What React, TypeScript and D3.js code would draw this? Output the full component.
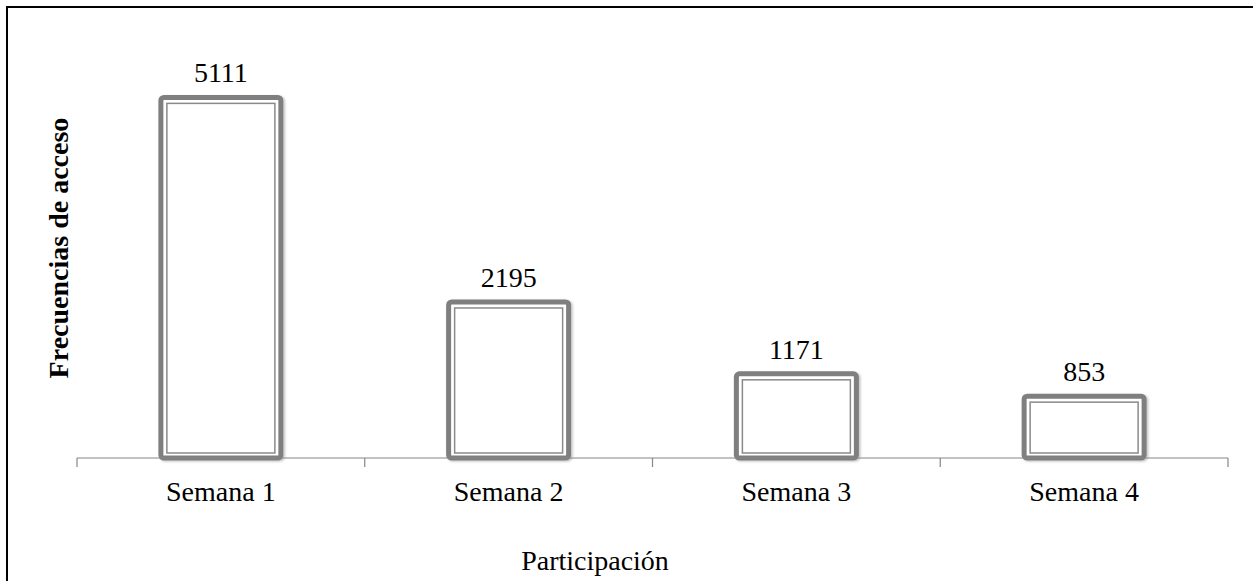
import React from 'react';
import * as d3 from 'd3';

const categories = ['Semana 1', 'Semana 2', 'Semana 3', 'Semana 4'];
const values = [5111, 2195, 1171, 853];
const yMax = 6000;
const xTitle = 'Participación';
const yTitle = 'Frecuencias de acceso';

const width = 1253;
const height = 581;
const FONT = '"Times New Roman", "Liberation Serif", serif';

export default function App() {
  const axisY = 458;
  const x = d3.scaleBand<string>().domain(categories).range([77, 1228]).padding(0);
  const y = d3.scaleLinear().domain([0, yMax]).range([456, 35]);

  const barW = x.bandwidth() * 0.417;
  const ticks = [...categories.map(c => x(c) as number), 1228];

  return (
    <div style={{ position: 'absolute', left: 0, top: 0 }}>
      <svg width={width} height={height} style={{ display: 'block', background: '#fff' }}>
        <defs>
          <filter id="shadow" x="-10%" y="-10%" width="130%" height="130%">
            <feDropShadow dx="1.5" dy="1" stdDeviation="1.2" floodColor="#000" floodOpacity="0.25" />
          </filter>
        </defs>

        {/* chart frame */}
        <rect x={7} y={7} width={1260} height={600} fill="none" stroke="#000" strokeWidth={2} />

        {/* bars */}
        {values.map((v, i) => {
          const cx = (x(categories[i]) as number) + x.bandwidth() / 2;
          const top = y(v);
          const x0 = cx - barW / 2;
          const h = axisY - top;
          return (
            <g key={categories[i]}>
              <rect x={x0} y={top} width={barW} height={h} rx={3} fill="#fff"
                stroke="#7f7f7f" strokeWidth={5} filter="url(#shadow)" />
              <rect x={x0 + 6} y={top + 6} width={barW - 12} height={h - 11} fill="none"
                stroke="#8a8a8a" strokeWidth={1.5} />
              <text x={cx} y={top - 15} textAnchor="middle" fontFamily={FONT} fontSize={28} fill="#000">
                {v}
              </text>
            </g>
          );
        })}

        {/* x axis */}
        <line x1={77} x2={1228} y1={axisY} y2={axisY} stroke="#868686" strokeWidth={1.2} />
        {ticks.map((t, i) => (
          <line key={i} x1={t} x2={t} y1={axisY} y2={axisY + 9} stroke="#868686" strokeWidth={1.2} />
        ))}
        {categories.map(c => (
          <text key={c} x={(x(c) as number) + x.bandwidth() / 2} y={501} textAnchor="middle"
            fontFamily={FONT} fontSize={28} fill="#000">{c}</text>
        ))}

        {/* axis titles */}
        <text x={595} y={570} textAnchor="middle" fontFamily={FONT} fontSize={28} fill="#000">{xTitle}</text>
        <text transform="translate(68,248) rotate(-90)" textAnchor="middle" fontFamily={FONT}
          fontSize={28} fontWeight="bold" fill="#000">{yTitle}</text>
      </svg>
    </div>
  );
}
